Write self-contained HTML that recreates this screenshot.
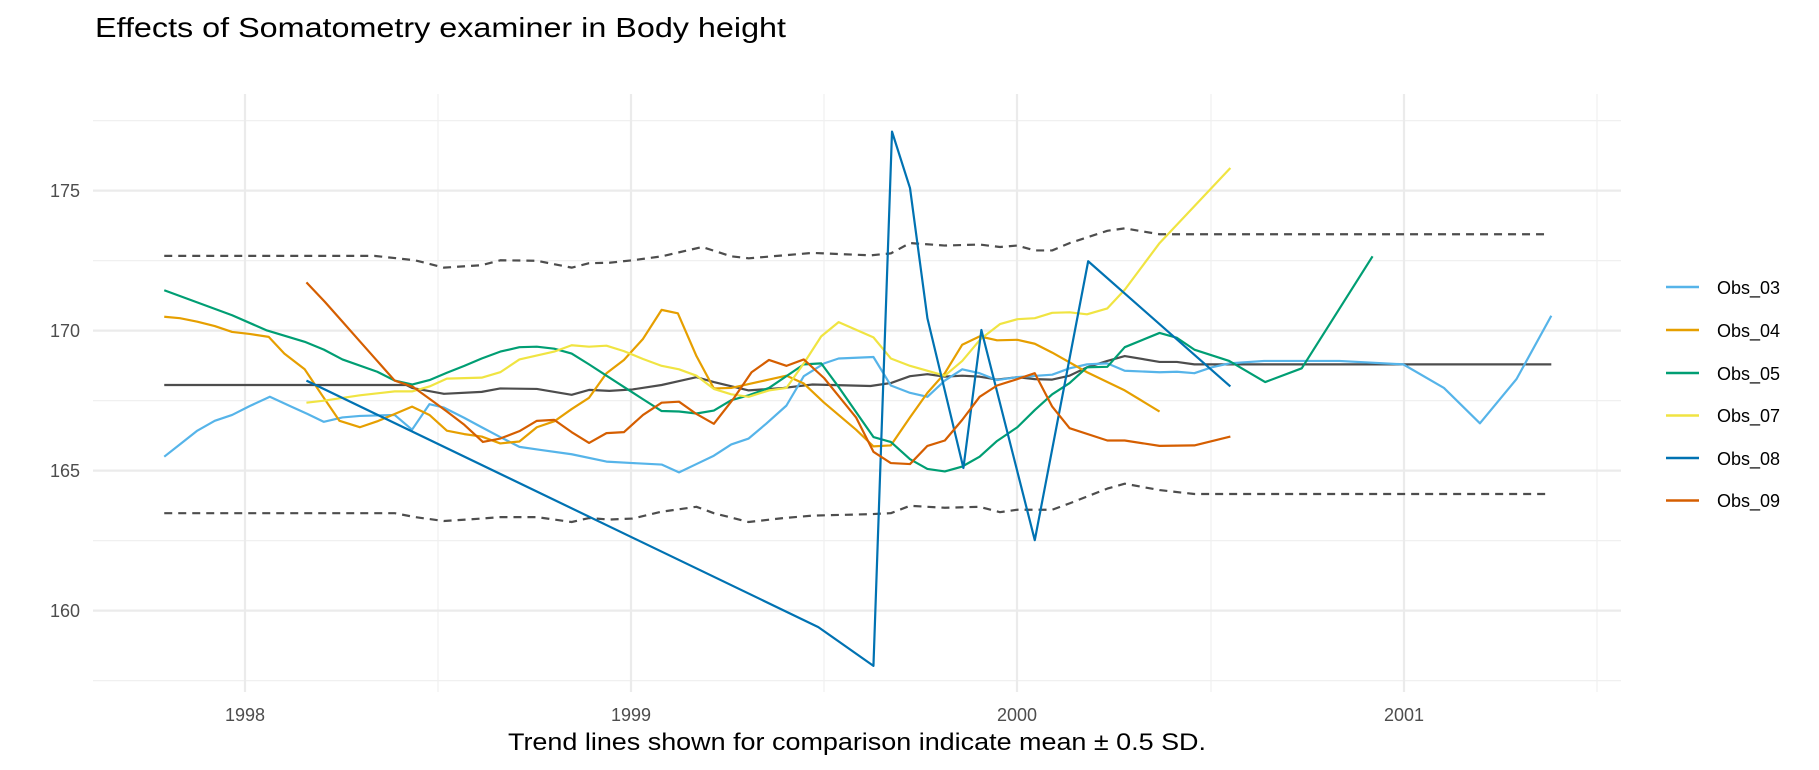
<!DOCTYPE html>
<html><head><meta charset="utf-8"><style>
html,body{margin:0;padding:0;background:#fff;}
svg{display:block;font-family:"Liberation Sans",Arial,sans-serif;}
.s{fill:none;stroke-width:2.2;vector-effect:non-scaling-stroke;stroke-linejoin:round;stroke-linecap:butt;}
</style></head><body>
<svg width="1819" height="770" viewBox="0 0 1819 770">
<rect width="1819" height="770" fill="#fff"/>
<g stroke="#f0f0f0" stroke-width="1.2">
<line x1="93" x2="1621" y1="120.6" y2="120.6"/><line x1="93" x2="1621" y1="260.6" y2="260.6"/>
<line x1="93" x2="1621" y1="400.6" y2="400.6"/><line x1="93" x2="1621" y1="540.6" y2="540.6"/>
<line x1="93" x2="1621" y1="680.6" y2="680.6"/>
<line y1="94" y2="692" x1="438" x2="438"/><line y1="94" y2="692" x1="824" x2="824"/>
<line y1="94" y2="692" x1="1211" x2="1211"/><line y1="94" y2="692" x1="1597" x2="1597"/>
</g>
<g stroke="#ebebeb" stroke-width="2.2">
<line x1="93" x2="1621" y1="190.6" y2="190.6"/><line x1="93" x2="1621" y1="330.6" y2="330.6"/>
<line x1="93" x2="1621" y1="470.6" y2="470.6"/><line x1="93" x2="1621" y1="610.6" y2="610.6"/>
<line y1="94" y2="692" x1="245" x2="245"/><line y1="94" y2="692" x1="631" x2="631"/>
<line y1="94" y2="692" x1="1017" x2="1017"/><line y1="94" y2="692" x1="1404" x2="1404"/>
</g>
<g fill="#4d4d4d" font-size="18" text-anchor="end">
<text x="80" y="197">175</text><text x="80" y="337">170</text><text x="80" y="477">165</text><text x="80" y="617">160</text>
</g>
<g fill="#4d4d4d" font-size="18" text-anchor="middle">
<text x="245" y="721">1998</text><text x="631" y="721">1999</text><text x="1017" y="721">2000</text><text x="1404" y="721">2001</text>
</g>
<g transform="scale(0.58036,0.49107)">
<polyline class="s" stroke="#4d4d4d" points="283,784 700,784 710,790 765,802 830,798 862,791 925,792 985,804 1015,794 1050,796 1090,793 1140,784 1200,768 1230,778 1290,795 1350,790 1400,783 1500,786 1535,780 1568,766 1598,762 1628,767 1658,765 1688,767 1718,773 1753,768 1783,772 1813,773 1843,765 1873,748 1908,735 1938,725 1998,737 2028,737 2058,742 2673,742"/>
<polyline class="s" stroke="#4d4d4d" stroke-dasharray="8,6" points="283,521 645,521 715,530 765,545 830,540 862,530 925,531 985,545 1015,536 1050,535 1090,530 1140,522 1210,503 1260,522 1290,526 1350,520 1400,515 1500,520 1535,516 1568,495 1628,500 1688,498 1723,503 1753,500 1783,510 1813,510 1843,495 1908,470 1938,465 1998,477 2663,477"/>
<polyline class="s" stroke="#4d4d4d" stroke-dasharray="8,6" points="283,1045 680,1045 715,1053 765,1061 830,1056 862,1053 925,1053 985,1063 1015,1055 1050,1058 1090,1056 1140,1042 1200,1032 1230,1045 1290,1063 1350,1055 1400,1050 1500,1047 1535,1045 1568,1030 1628,1034 1688,1032 1723,1043 1753,1038 1813,1038 1843,1025 1908,995 1938,985 1998,998 2058,1006 2663,1006"/>
<polyline class="s" stroke="#56B4E9" points="283,930 310,905 340,877 370,857 400,845 430,827 465,808 500,827 530,843 558,859 590,850 620,847 680,845 710,875 740,823 765,830 800,851 830,870 862,890 895,910 930,916 985,925 1045,940 1090,943 1140,946 1170,962 1200,945 1230,928 1260,905 1290,893 1320,863 1355,826 1385,766 1420,740 1445,730 1505,727 1535,785 1568,800 1598,808 1628,775 1658,752 1688,760 1718,774 1753,768 1813,763 1843,750 1873,742 1908,740 1938,755 1998,758 2028,757 2058,760 2088,748 2118,740 2178,735 2308,735 2418,742 2488,790 2550,862 2613,772 2673,643"/>
<polyline class="s" stroke="#E69F00" points="283,645 310,648 340,655 370,664 400,676 430,680 463,686 490,720 525,752 555,805 585,857 620,870 650,858 680,843 710,828 740,845 770,877 800,884 830,889 862,903 895,899 925,870 955,858 985,833 1015,810 1045,760 1075,733 1108,690 1140,631 1168,638 1200,725 1230,791 1260,790 1290,782 1325,773 1355,765 1385,781 1420,820 1475,875 1505,909 1535,907 1568,850 1598,800 1628,760 1658,702 1688,685 1718,693 1753,692 1783,700 1813,718 1873,758 1938,795 1998,838"/>
<polyline class="s" stroke="#009E73" points="283,591 400,642 460,673 525,696 558,712 590,732 650,757 680,775 710,783 740,774 770,759 800,745 830,730 862,716 895,707 925,706 955,710 985,720 1015,742 1045,765 1075,788 1108,813 1140,837 1170,838 1200,842 1230,836 1260,815 1290,805 1325,790 1385,742 1415,740 1445,788 1505,890 1535,900 1568,935 1598,955 1628,960 1658,950 1688,930 1718,898 1753,870 1783,835 1813,803 1843,780 1873,748 1908,747 1938,707 1998,678 2028,688 2058,712 2118,735 2180,778 2243,750 2365,522"/>
<polyline class="s" stroke="#F0E442" points="528,820 558,816 620,805 680,797 710,797 740,787 770,771 830,769 862,758 895,732 955,716 985,703 1015,706 1045,704 1075,715 1108,731 1140,745 1170,752 1200,765 1230,792 1260,803 1290,808 1325,795 1355,790 1385,740 1415,685 1445,656 1505,687 1535,730 1568,745 1628,765 1658,735 1690,690 1723,660 1753,650 1783,648 1813,637 1843,636 1873,640 1908,628 1938,590 1998,495 2120,342"/>
<polyline class="s" stroke="#0072B2" points="528,775 1410,1277 1505,1356 1537,268 1568,383 1598,648 1660,953 1691,672 1783,1100 1875,532 2120,787"/>
<polyline class="s" stroke="#D55E00" points="528,575 560,615 590,655 620,695 650,735 680,775 712,788 740,812 770,838 800,865 832,900 862,893 895,878 925,857 955,855 985,880 1015,902 1045,882 1075,880 1108,845 1140,820 1170,818 1200,843 1230,863 1265,810 1295,758 1325,733 1355,745 1385,732 1420,770 1475,850 1505,920 1535,943 1568,945 1598,908 1628,897 1658,855 1688,808 1718,785 1753,772 1783,760 1813,828 1843,872 1908,897 1938,897 1998,908 2058,907 2120,889"/>
</g>
<g stroke-width="2.5">
<line x1="1666" x2="1699" y1="287" y2="287" stroke="#56B4E9"/>
<line x1="1666" x2="1699" y1="330" y2="330" stroke="#E69F00"/>
<line x1="1666" x2="1699" y1="373" y2="373" stroke="#009E73"/>
<line x1="1666" x2="1699" y1="415.5" y2="415.5" stroke="#F0E442"/>
<line x1="1666" x2="1699" y1="458" y2="458" stroke="#0072B2"/>
<line x1="1666" x2="1699" y1="500.5" y2="500.5" stroke="#D55E00"/>
</g>
<g fill="#000" font-size="18">
<text x="1717" y="294">Obs_03</text><text x="1717" y="337">Obs_04</text><text x="1717" y="380">Obs_05</text>
<text x="1717" y="422">Obs_07</text><text x="1717" y="465">Obs_08</text><text x="1717" y="507">Obs_09</text>
</g>
<text x="95" y="37" font-size="28" fill="#000" textLength="691" lengthAdjust="spacingAndGlyphs">Effects of Somatometry examiner in Body height</text>
<text x="508" y="750" font-size="24" fill="#000" textLength="698" lengthAdjust="spacingAndGlyphs">Trend lines shown for comparison indicate mean ± 0.5 SD.</text>
</svg>
</body></html>
